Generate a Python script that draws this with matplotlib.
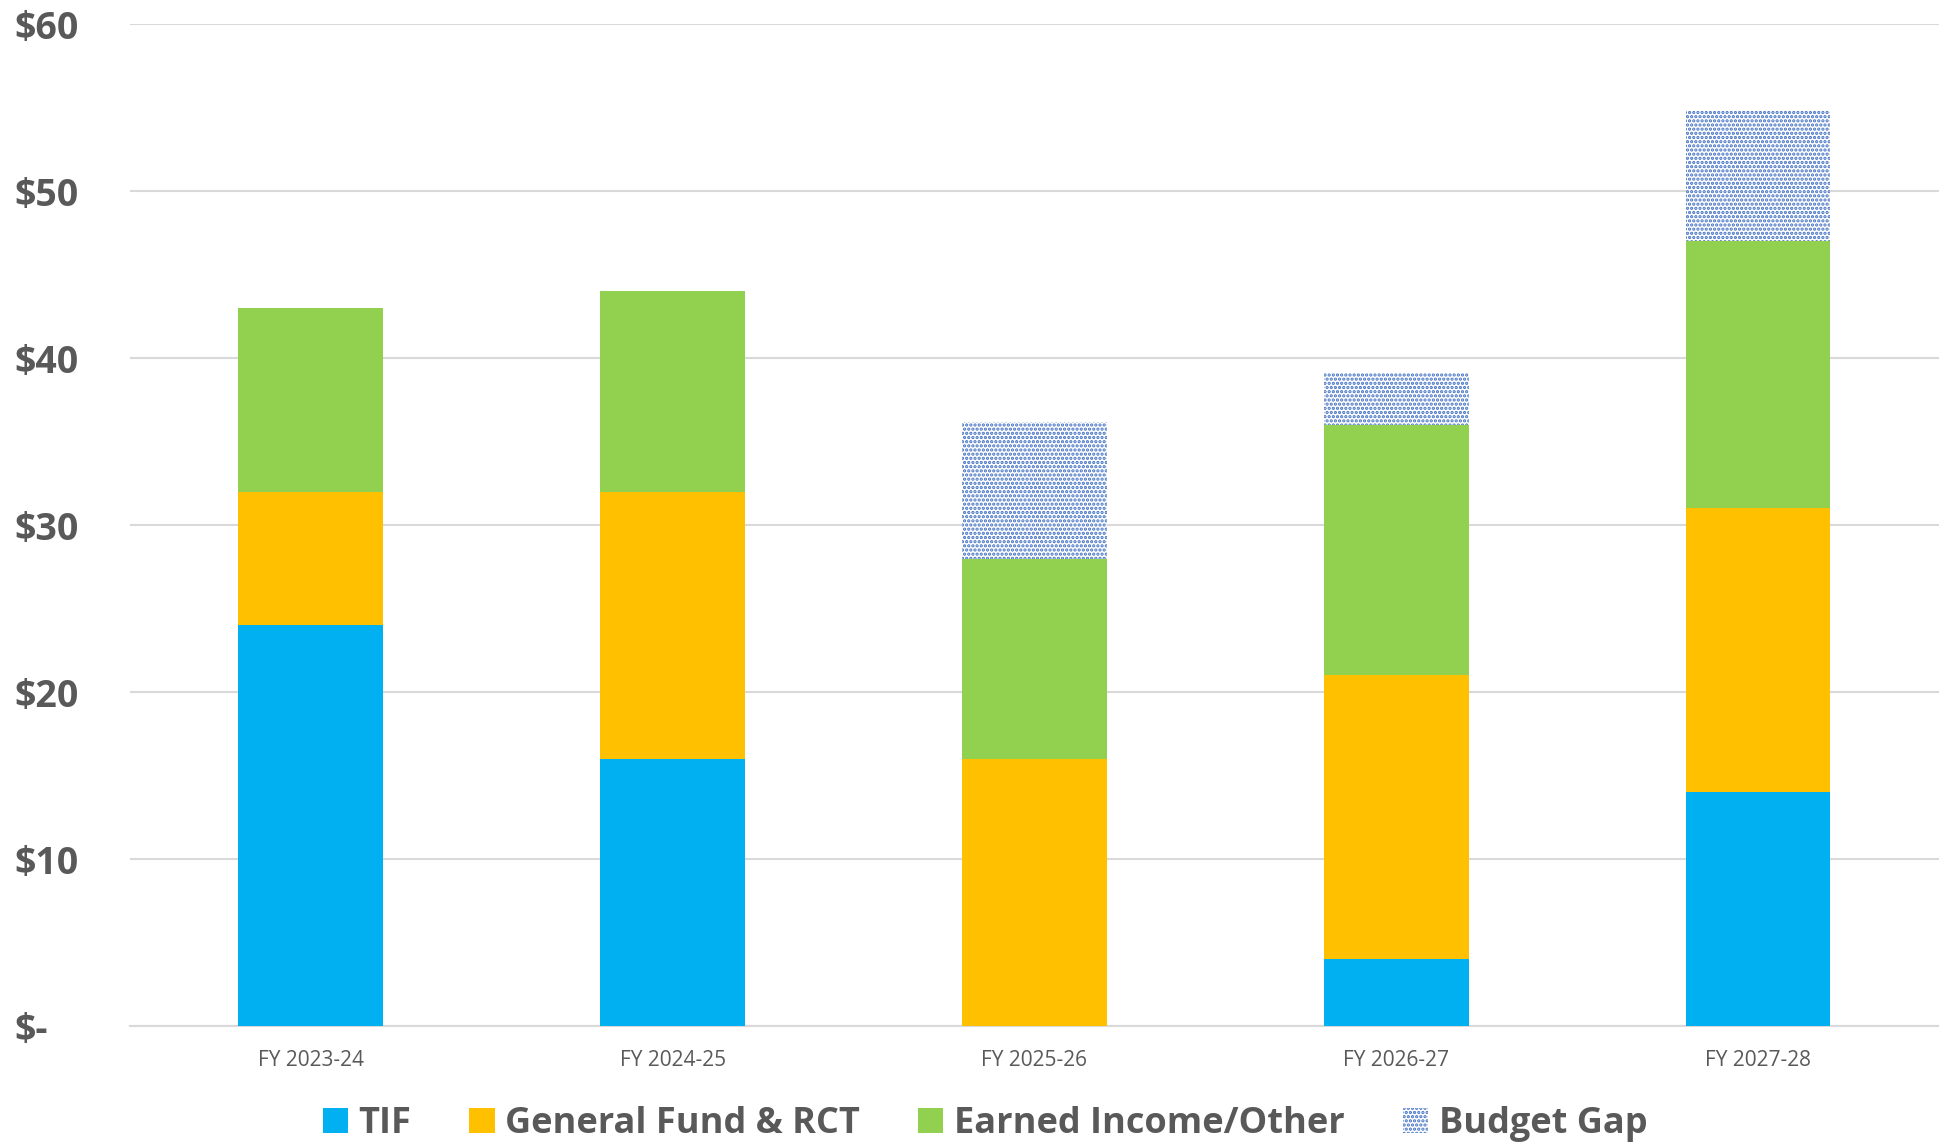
import numpy as np
import matplotlib
matplotlib.use('Agg')
import matplotlib.pyplot as plt

# budget sources by fiscal year ($M)
years = ['FY 2023-24', 'FY 2024-25', 'FY 2025-26', 'FY 2026-27', 'FY 2027-28']
tif = [24, 16, 0, 4, 14]
general_fund = [8, 16, 16, 17, 17]
earned_income = [11, 12, 12, 15, 16]
budget_gap = [0, 0, 8.2, 3.1, 7.8]

y_ticks = [0, 10, 20, 30, 40, 50, 60]
y_labels = ['$-', '$10', '$20', '$30', '$40', '$50', '$60']

plt.rcParams['font.family'] = ['Open Sans', 'DejaVu Sans']
plt.rcParams['hatch.linewidth'] = 1.6
text_color = '#595959'

fig = plt.figure(figsize=(19.39, 11.45), dpi=100)
ax = fig.add_axes([0.067, 0.1037, 0.933, 0.8753])

x = np.arange(len(years))
w = 0.4
b1 = np.array(tif, dtype=float)
b2 = b1 + general_fund
b3 = b2 + earned_income

ax.bar(x, tif, w, color='#00B0F0', label='TIF', zorder=3)
ax.bar(x, general_fund, w, bottom=b1, color='#FFC000', label='General Fund & RCT', zorder=3)
ax.bar(x, earned_income, w, bottom=b2, color='#92D050', label='Earned Income/Other', zorder=3)
ax.bar(x, budget_gap, w, bottom=b3, facecolor='white', edgecolor='#4472C4',
       hatch='....', linewidth=0, label='Budget Gap', zorder=3)

ax.set_xlim(-0.5, 4.5)
ax.set_ylim(0, 60)
ax.set_yticks(y_ticks)
ax.set_yticklabels(y_labels, fontsize=27, fontweight='bold', color=text_color)
ax.set_xticks(x)
ax.set_xticklabels(years, fontsize=15, color=text_color)
ax.tick_params(axis='both', length=0)
ax.tick_params(axis='y', pad=83)
ax.tick_params(axis='x', pad=17)
for lbl in ax.get_yticklabels():
    lbl.set_horizontalalignment('left')

ax.grid(axis='y', color='#D9D9D9', linewidth=1.5, zorder=0)
for s in ['top', 'right', 'left']:
    ax.spines[s].set_visible(False)
ax.spines['bottom'].set_color('#D9D9D9')
ax.spines['bottom'].set_linewidth(1.5)

leg = fig.legend(loc='center', bbox_to_anchor=(0.508, 0.018), ncol=4, frameon=False,
                 fontsize=26, handlelength=0.7, handleheight=0.7, handletextpad=0.3,
                 columnspacing=1.6)
for t in leg.get_texts():
    t.set_color(text_color)
    t.set_fontweight('bold')

fig.savefig('out.png', dpi=100)
